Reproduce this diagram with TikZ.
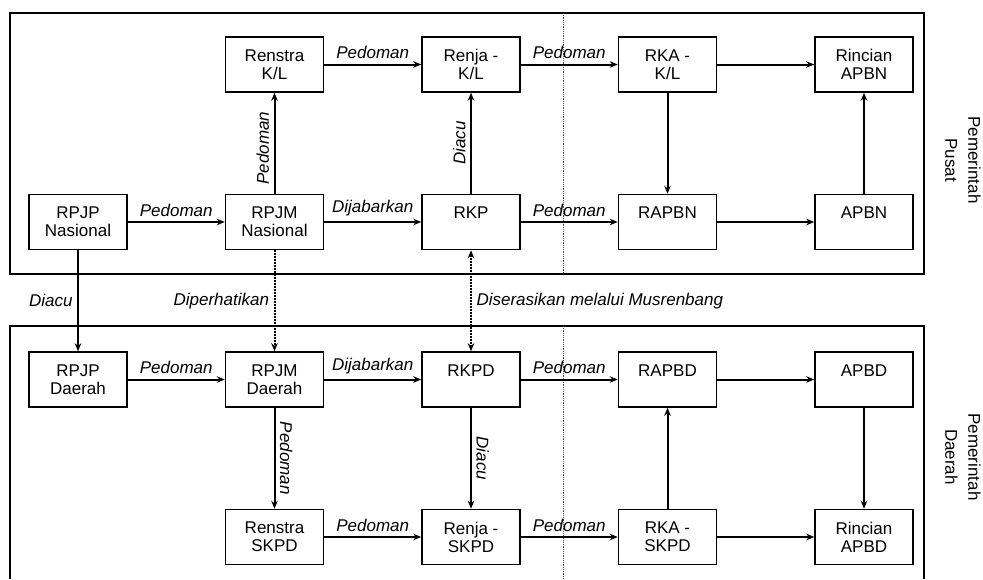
\documentclass[tikz,border=0pt]{standalone}
\usepackage{fontspec}
\setmainfont{Liberation Sans}
\usetikzlibrary{positioning,arrows.meta}

\begin{document}
\begin{tikzpicture}[x=1pt,y=-1pt,->,>={Stealth[length=8pt,width=6.5pt]},line width=2pt,auto,node distance=101pt and 97pt,
	font=\fontsize{17}{18}\selectfont,
	box node/.style={draw,rectangle,line width=1.5pt,minimum width=98pt,minimum height=55pt,inner sep=0pt,align=center},
	label node/.style={font=\fontsize{17}{18}\selectfont\itshape,inner sep=4.5pt},
	side node/.style={rotate=-90,align=center,font=\fontsize{17}{23}\selectfont}]

	\useasboundingbox (0,0) rectangle (983,579);

	% frames
	\draw[-,line width=1.5pt] (10,13) rectangle (924,274);
	\draw[-,line width=1.5pt] (10,579) -- (10,326) -- (924,326) -- (924,579);
	\draw[-,line width=0.8pt,densely dotted,black!70] (563,13) -- (563,274);
	\draw[-,line width=0.8pt,densely dotted,black!70] (563,326) -- (563,579);

	% pemerintah pusat
	\node[box node] (rpjpn) at (78,222) {RPJP\\Nasional};
	\node[box node] (rpjmn) [right=of rpjpn] {RPJM\\Nasional};
	\node[box node] (rkp) [right=of rpjmn] {RKP\\\phantom{Nasional}};
	\node[box node] (rapbn) [right=of rkp] {RAPBN\\\phantom{Nasional}};
	\node[box node] (apbn) [right=of rapbn] {APBN\\\phantom{Nasional}};
	\node[box node] (renstrakl) [above=of rpjmn] {Renstra\\K/L};
	\node[box node] (renjakl) [above=of rkp] {Renja -\\K/L};
	\node[box node] (rkakl) [above=of rapbn] {RKA -\\K/L};
	\node[box node] (rincianapbn) [above=of apbn] {Rincian\\APBN};

	% pemerintah daerah
	\node[box node] (rpjpd) [below=of rpjpn] {RPJP\\Daerah};
	\node[box node] (rpjmd) [right=of rpjpd] {RPJM\\Daerah};
	\node[box node] (rkpd) [right=of rpjmd] {RKPD\\\phantom{Daerah}};
	\node[box node] (rapbd) [right=of rkpd] {RAPBD\\\phantom{Daerah}};
	\node[box node] (apbd) [right=of rapbd] {APBD\\\phantom{Daerah}};
	\node[box node] (renstraskpd) [below=of rpjmd] {Renstra\\SKPD};
	\node[box node] (renjaskpd) [below=of rkpd] {Renja -\\SKPD};
	\node[box node] (rkaskpd) [below=of rapbd] {RKA -\\SKPD};
	\node[box node] (rincianapbd) [below=of apbd] {Rincian\\APBD};

	\node[side node] (pusat) at (963,160) {Pemerintah\\Pusat};
	\node[side node] (daerah) at (963,457) {Pemerintah\\Daerah};

	\path[every node/.style={label node}]
	(rpjpn) edge node {Pedoman} (rpjmn)
	(rpjmn) edge node {Dijabarkan} (rkp)
	edge node[pos=0.45,sloped] {Pedoman} (renstrakl)
	(rkp) edge node {Pedoman} (rapbn)
	edge node[sloped] {Diacu} (renjakl)
	(rapbn) edge (apbn)
	(apbn) edge (rincianapbn)
	(renstrakl) edge node {Pedoman} (renjakl)
	(renjakl) edge node {Pedoman} (rkakl)
	(rkakl) edge (rincianapbn)
	edge (rapbn)
	(rpjpn) edge node[left] {Diacu} (rpjpd)
	(rpjmn) edge[densely dotted] node[left] {Diperhatikan} (rpjmd)
	(rkp) edge[<->,densely dotted] node[right] {Diserasikan melalui Musrenbang} (rkpd)
	(rpjpd) edge node {Pedoman} (rpjmd)
	(rpjmd) edge node {Dijabarkan} (rkpd)
	edge node[sloped] {Pedoman} (renstraskpd)
	(rkpd) edge node {Pedoman} (rapbd)
	edge node[sloped] {Diacu} (renjaskpd)
	(rapbd) edge (apbd)
	(apbd) edge (rincianapbd)
	(renstraskpd) edge node {Pedoman} (renjaskpd)
	(renjaskpd) edge node {Pedoman} (rkaskpd)
	(rkaskpd) edge (rapbd)
	edge (rincianapbd);

\end{tikzpicture}
\end{document}
